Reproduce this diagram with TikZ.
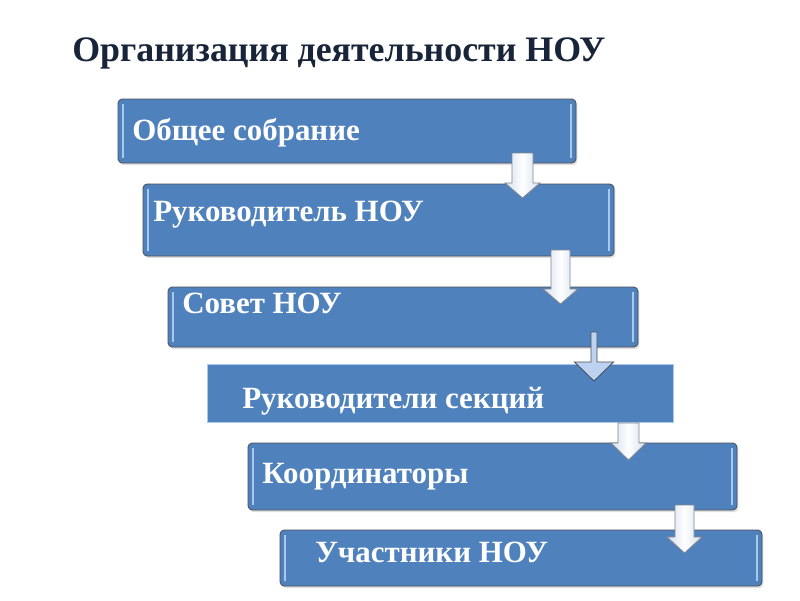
\documentclass[tikz,border=0pt]{standalone}
\usepackage{fontspec}
\setmainfont{Liberation Serif}
\usetikzlibrary{shadows}
\definecolor{boxblue}{HTML}{4F81BD}
\definecolor{boxline}{HTML}{4A4F57}
\definecolor{bevel}{HTML}{A9C8EE}
\definecolor{titlecol}{HTML}{17243A}
\definecolor{arrline}{HTML}{7F8790}
\definecolor{arrfill}{HTML}{D3DFEE}
\definecolor{arrblue}{HTML}{BCD2F0}
\tikzset{
  box/.style={fill=boxblue, draw=boxline, line width=0.6pt, rounded corners=3pt,
    drop shadow={opacity=0.25, shadow xshift=1pt, shadow yshift=-1.5pt}},
  plainbox/.style={fill=boxblue, draw=bevel, line width=0.5pt},
  lbl/.style={anchor=base west, inner sep=0pt, text=white, font=\bfseries\fontsize{22}{26}\selectfont},
  arr/.style={draw=arrline, line width=0.6pt, left color=arrfill, right color=arrfill, middle color=white},
  thinarr/.style={draw=boxline, line width=0.6pt, fill=arrblue}
}
\begin{document}
\begin{tikzpicture}[x=0.025cm, y=-0.025cm]
  \useasboundingbox[fill=white] (0,0) rectangle (800,600);
  \node[anchor=base west, inner sep=0pt, text=titlecol, font=\bfseries\fontsize{25.5}{30}\selectfont] (title) at (72,61) {Организация деятельности НОУ};
  \foreach \i/\xa/\ya/\xb/\yb/\tx/\ty/\lbltext in {1/118/99/576/163/132/140/Общее собрание,
      2/143/184/614/256/153/221/Руководитель НОУ,
      3/168/287/638/347/182/313/Совет НОУ,
      4/207/364/673/422/242/408/Руководители секций,
      5/248/443/737/510/262/483/Координаторы,
      6/280/530/762/586/315/562/Участники НОУ} {
    \ifnum\i=4
      \draw[plainbox] (\xa,\ya) rectangle (\xb,\yb);
    \else
      \draw[box] (\xa,\ya) rectangle (\xb,\yb);
      \draw[bevel, line width=1.3pt] (\xa+5,\ya+5) -- (\xa+5,\yb-5);
      \draw[bevel, line width=1.3pt] (\xb-5,\ya+5) -- (\xb-5,\yb-5);
    \fi
    \node[lbl] (level\i) at (\tx,\ty) {\lbltext};
  }
  % block arrows between the levels
  \foreach \i/\cx/\ta/\hb/\tp/\sw/\hw in {1/522.5/153/183/198/10.5/17.5,
      2/560.5/250/289/304/9.5/17.5,
      3/594/332/362/381/3/19.5,
      4/628.5/423/443/460/10.5/17.5,
      5/684.5/505/537/553/9.5/17.5} {
    \ifnum\i=3
      \draw[thinarr] (\cx-\sw,\ta) -- (\cx+\sw,\ta) -- (\cx+\sw,\hb) -- (\cx+\hw,\hb) -- (\cx,\tp) -- (\cx-\hw,\hb) -- (\cx-\sw,\hb) -- cycle;
    \else
      \draw[arr] (\cx-\sw,\ta) -- (\cx+\sw,\ta) -- (\cx+\sw,\hb) -- (\cx+\hw,\hb) -- (\cx,\tp) -- (\cx-\hw,\hb) -- (\cx-\sw,\hb) -- cycle;
    \fi
  }
\end{tikzpicture}
\end{document}
